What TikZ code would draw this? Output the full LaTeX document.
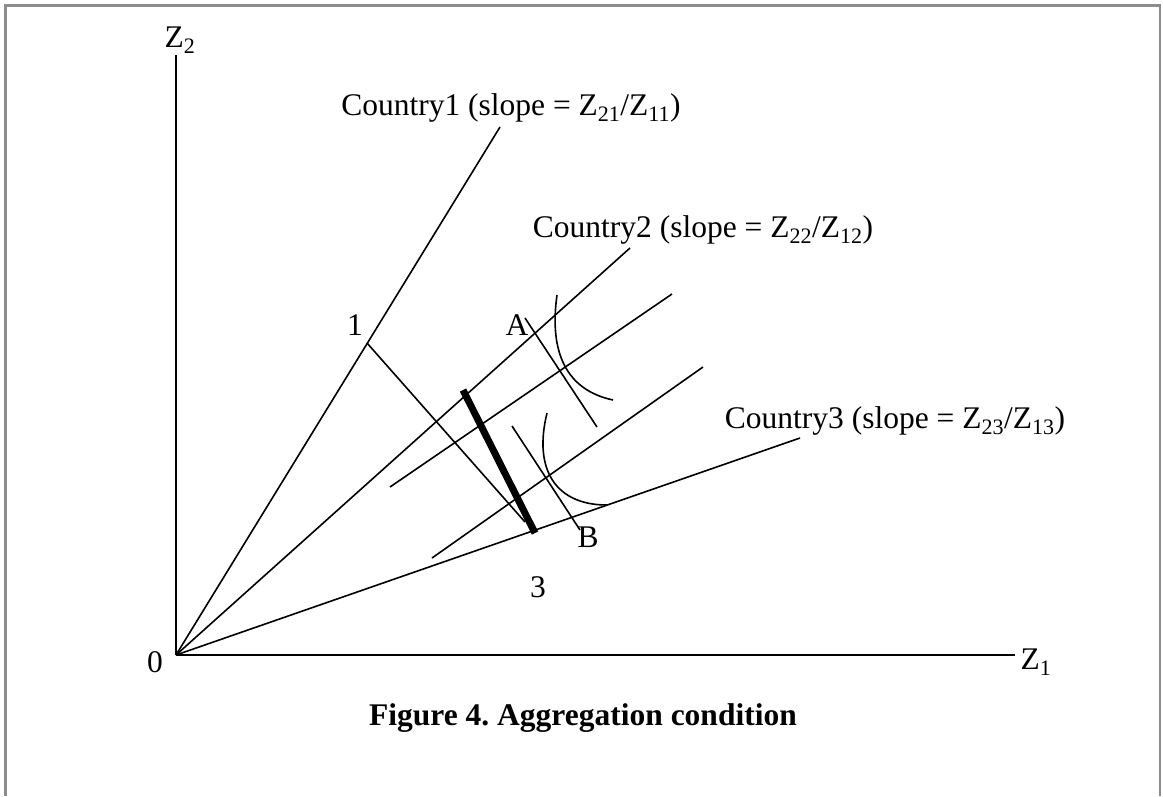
\documentclass[tikz,border=0pt]{standalone}
\usepackage{fontspec}
\setmainfont{Liberation Serif}
\usetikzlibrary{positioning}
\frenchspacing

\begin{document}
\begin{tikzpicture}[x=1pt, y=-1pt, line width=1.5pt,
    lbl/.style={font=\fontsize{31.5}{36}\selectfont, inner sep=0pt},
    ray/.style={line width=1.6pt},
    frame/.style={draw=black!45, line width=2.2pt}]
    \useasboundingbox (0,0) rectangle (1163,796);
    % Khung
    \draw[frame] (5.5,796) -- (5.5,5.5) -- (1160,5.5) -- (1160,796);

    % Các điểm
    \coordinate (O) at (176,655);
    \coordinate (z1) at (1015,655);
    \coordinate (z2) at (176,55);
    \coordinate (c1) at (500,127);
    \coordinate (c2) at (630,248);
    \coordinate (c3) at (800,438);
    \coordinate (p1) at (367,343);
    \coordinate (q1) at (525,522);

    % Vẽ hệ trục
    \draw[ray] (O) -- (z1);
    \draw[ray] (O) -- (z2);
    \node[lbl] (lz1) at (1036,662) {Z\textsubscript{1}};
    \node[lbl] (lz2) at (180,40) {Z\textsubscript{2}};
    \node[lbl] (lo) at (155,662) {0};

    % Các tia
    \draw[ray] (O) -- (c1);
    \draw[ray] (O) -- (c2);
    \draw[ray] (O) -- (c3);
    \node[lbl] (n1) at (511,108) {Country1 (slope = Z\textsubscript{21}/Z\textsubscript{11})};
    \node[lbl] (n2) at (703,230) {Country2 (slope = Z\textsubscript{22}/Z\textsubscript{12})};
    \node[lbl] (n3) at (895,421) {Country3 (slope = Z\textsubscript{23}/Z\textsubscript{13})};

    % Đường song song
    \coordinate (u1) at (390,487);
    \coordinate (v1) at (672,294);
    \coordinate (u2) at (432,558);
    \coordinate (v2) at (703,367);
    \draw[ray] (u1) -- (v1);
    \draw[ray] (u2) -- (v2);

    % Đường vuông góc
    \draw[ray] (p1) -- (q1);
    \coordinate (a1) at (525,318);
    \coordinate (a2) at (597,427);
    \coordinate (b1) at (512,426);
    \coordinate (b2) at (580,530);
    \draw[ray] (a1) -- (a2);
    \draw[ray] (b1) -- (b2);

    % Đoạn đậm
    \coordinate (t1) at (463,390);
    \coordinate (t2) at (535,533);
    \draw[line width=7pt] (t1) -- (t2);

    % Đường cong
    \draw[ray] (557,295) .. controls (549,352) and (566,390) .. (613,400);
    \draw[ray] (547,413) .. controls (533,470) and (556,505) .. (607,505);

    % Nhãn
    \node[lbl] (l1) at (355,325) {1};
    \node[lbl] (la) at (517,325) {A};
    \node[lbl] (lb) at (588,537) {B};
    \node[lbl] (l3) at (538,587) {3};
    \node[lbl, font=\fontsize{31.5}{36}\selectfont\bfseries] (cap) at (583,718)
        {Figure 4. Aggregation condition};
\end{tikzpicture}
\end{document}
